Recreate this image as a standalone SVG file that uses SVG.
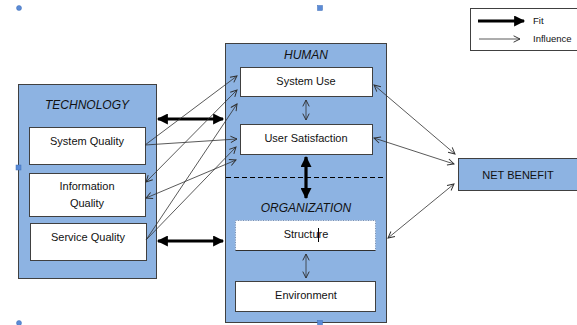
<svg xmlns="http://www.w3.org/2000/svg" width="577" height="325" viewBox="0 0 577 325">
<style>
.panel{fill:#8db3e2;stroke:#404040;stroke-width:1}
.box{fill:#ffffff;stroke:#404040;stroke-width:1}
.t{font-family:"Liberation Sans",Arial,sans-serif;font-size:11px;fill:#111111;text-anchor:middle}
.lg{font-family:"Liberation Sans",Arial,sans-serif;font-size:9.5px;fill:#111111}
.h{font-family:"Liberation Sans",Arial,sans-serif;font-size:12px;font-style:italic;fill:#111111;text-anchor:middle}
.thin{stroke:#303030;stroke-width:0.8;fill:none}
.thick{stroke:#000;stroke-width:3.2;fill:none}
.handle{fill:#5b8bd6;stroke:#3f6fb8;stroke-width:0.5}
</style>
<defs>
<marker id="ta" viewBox="0 0 10 10" refX="9" refY="5" markerWidth="9" markerHeight="8" markerUnits="userSpaceOnUse" orient="auto-start-reverse">
<path d="M1,1 L9,5 L1,9" fill="none" stroke="#303030" stroke-width="1.2"/>
</marker>
<marker id="fa" viewBox="0 0 10 10" refX="9" refY="5" markerWidth="12" markerHeight="11" markerUnits="userSpaceOnUse" orient="auto-start-reverse">
<path d="M0,0 L10,5 L0,10 Z" fill="#000"/>
</marker>
</defs>

<g id="technology">
<rect class="panel" x="18.5" y="84.5" width="138" height="194"/>
<text class="h" x="87" y="109">TECHNOLOGY</text>
</g>
<g id="system-quality">
<rect class="box" x="29.5" y="127.5" width="116" height="37"/>
<text class="t" x="87" y="145">System Quality</text>
</g>
<g id="information-quality">
<rect class="box" x="29.5" y="173.5" width="116" height="43"/>
<text class="t" x="87" y="190">Information</text>
<text class="t" x="87" y="207">Quality</text>
</g>
<g id="service-quality">
<rect class="box" x="30.5" y="223.5" width="116" height="37"/>
<text class="t" x="88" y="241">Service Quality</text>
</g>

<g id="human-organization">
<rect class="panel" x="225.5" y="43.5" width="161" height="279"/>
<text class="h" x="306" y="59">HUMAN</text>
<line x1="226" y1="177.5" x2="386" y2="177.5" stroke="#000" stroke-width="1.2" stroke-dasharray="5,3"/>
<text class="h" x="306" y="212">ORGANIZATION</text>
</g>
<g id="system-use">
<rect class="box" x="240.5" y="67.5" width="132" height="29"/>
<text class="t" x="306" y="85">System Use</text>
</g>
<g id="user-satisfaction">
<rect class="box" x="240.5" y="124.5" width="132" height="30"/>
<text class="t" x="306" y="142">User Satisfaction</text>
</g>
<g id="structure">
<rect x="235.5" y="220.5" width="140" height="30" fill="#fff" stroke="#6a7ea0" stroke-width="0.8" stroke-dasharray="1,1.5"/>
<line x1="235.5" y1="250.5" x2="375.5" y2="250.5" stroke="#303030" stroke-width="1"/>
<text class="t" x="306" y="238">Structure</text>
<line x1="318.5" y1="228" x2="318.5" y2="242" stroke="#000" stroke-width="1"/>
</g>
<g id="environment">
<rect class="box" x="235.5" y="281.5" width="140" height="30"/>
<text class="t" x="306" y="299">Environment</text>
</g>

<g id="net-benefit">
<rect class="panel" x="458.5" y="158.5" width="120" height="32"/>
<text class="t" x="518" y="179">NET BENEFIT</text>
</g>

<g id="legend">
<rect x="470.5" y="8.5" width="110" height="42" fill="#fff" stroke="#404040" stroke-width="1"/>
<line class="thick" x1="478" y1="21" x2="524" y2="21" marker-end="url(#fa)"/>
<line class="thin" x1="479" y1="39" x2="520" y2="39" marker-end="url(#ta)"/>
<text class="lg" x="533" y="24">Fit</text>
<text class="lg" x="533" y="42">Influence</text>
</g>

<g id="connectors">
<line class="thick" x1="158" y1="119" x2="223" y2="119" marker-start="url(#fa)" marker-end="url(#fa)"/>
<line class="thick" x1="158" y1="241" x2="223" y2="241" marker-start="url(#fa)" marker-end="url(#fa)"/>
<line class="thick" x1="306" y1="157" x2="306" y2="198" marker-start="url(#fa)" marker-end="url(#fa)"/>
<line class="thin" x1="306" y1="100" x2="306" y2="120" marker-start="url(#ta)" marker-end="url(#ta)"/>
<line class="thin" x1="306" y1="254" x2="306" y2="278" marker-start="url(#ta)" marker-end="url(#ta)"/>
<line class="thin" x1="145" y1="145" x2="237" y2="76" marker-end="url(#ta)"/>
<line class="thin" x1="145" y1="145" x2="237" y2="139" marker-end="url(#ta)"/>
<line class="thin" x1="146" y1="182" x2="237" y2="90" marker-start="url(#ta)" marker-end="url(#ta)"/>
<line class="thin" x1="146" y1="198" x2="236" y2="160" marker-start="url(#ta)" marker-end="url(#ta)"/>
<line class="thin" x1="146" y1="240" x2="237" y2="104" marker-end="url(#ta)"/>
<line class="thin" x1="146" y1="240" x2="236" y2="147" marker-end="url(#ta)"/>
<line class="thin" x1="374" y1="85" x2="455" y2="154" marker-start="url(#ta)" marker-end="url(#ta)"/>
<line class="thin" x1="374" y1="138" x2="454" y2="164" marker-start="url(#ta)" marker-end="url(#ta)"/>
<line class="thin" x1="388" y1="238" x2="454" y2="184" marker-start="url(#ta)" marker-end="url(#ta)"/>
</g>

<circle class="handle" cx="19" cy="8" r="2.5"/>
<rect class="handle" x="317.5" y="5.5" width="5" height="5"/>
<rect class="handle" x="16" y="165" width="5" height="5"/>
<circle class="handle" cx="19" cy="323" r="2.5"/>
<rect class="handle" x="317.5" y="320.5" width="5" height="5"/>
</svg>
